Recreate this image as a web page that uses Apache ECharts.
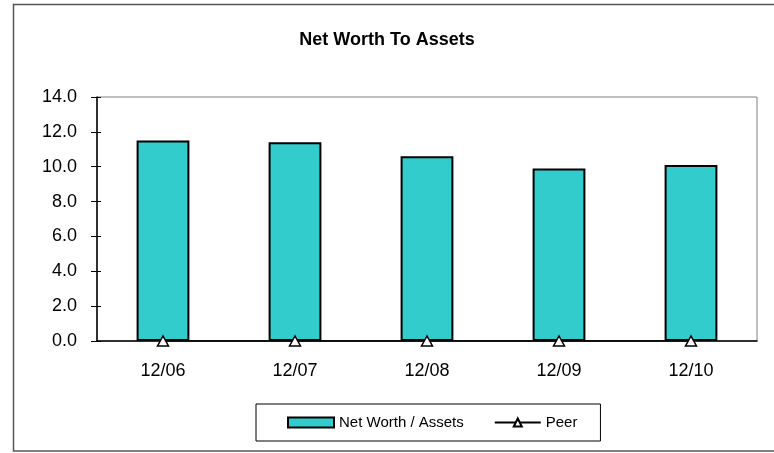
<!DOCTYPE html>
<html>
<head>
<meta charset="utf-8">
<script src="https://cdn.jsdelivr.net/npm/echarts@6/dist/echarts.min.js"></script>
<style>
  html, body { margin: 0; padding: 0; background: #fff; }
  #main { width: 774px; height: 453px; }
</style>
</head>
<body>
<div id="main"></div>
<script>
// data
const categories = ['12/06', '12/07', '12/08', '12/09', '12/10']
const netWorthToAssets = [11.5, 11.4, 10.6, 9.9, 10.1]
const peer = [0, 0, 0, 0, 0]
const yTicks = { min: 0, max: 14, interval: 2 }

const font = 'Liberation Sans, Arial, sans-serif'
const chart = echarts.init(document.getElementById('main'))

chart.setOption({
  animation: false,
  textStyle: { fontFamily: font },
  title: {
    text: 'Net Worth To Assets',
    left: 'center',
    top: 26,
    textStyle: { fontSize: 18, fontWeight: 'bold', color: '#000', fontFamily: font }
  },
  grid: {
    left: 97, right: 17, top: 97, bottom: 112,
    show: true, borderColor: '#808080', borderWidth: 1
  },
  legend: {
    left: 256, top: 404,
    padding: [11, 23, 11, 31],
    borderColor: '#000', borderWidth: 1,
    itemWidth: 46, itemHeight: 10, itemGap: 30,
    textStyle: { fontSize: 15, color: '#000', fontFamily: font },
    data: [
      { name: 'Net Worth / Assets', icon: 'rect' },
      { name: 'Peer' }
    ]
  },
  xAxis: [
    {
      type: 'category',
      data: categories,
      axisLine: { lineStyle: { color: '#000', width: 1.5 } },
      axisTick: { length: 5, lineStyle: { color: '#000' } },
      axisLabel: { fontSize: 18, color: '#000', margin: 21 }
    },
    {
      type: 'category',
      data: categories,
      position: 'bottom',
      axisLine: { show: false },
      axisTick: { inside: true, length: 5, lineStyle: { color: '#000' } },
      axisLabel: { show: false }
    }
  ],
  yAxis: [
    {
      type: 'value',
      min: yTicks.min, max: yTicks.max, interval: yTicks.interval,
      axisLine: { show: true, lineStyle: { color: '#000', width: 1.5 } },
      axisTick: { show: true, length: 6, lineStyle: { color: '#000' } },
      axisLabel: { fontSize: 18, color: '#000', margin: 20, formatter: v => v.toFixed(1) },
      splitLine: { show: false }
    },
    {
      type: 'value',
      position: 'left',
      min: yTicks.min, max: yTicks.max, interval: yTicks.interval,
      axisLine: { show: false },
      axisTick: { show: true, inside: true, length: 4, lineStyle: { color: '#000' } },
      axisLabel: { show: false },
      splitLine: { show: false }
    }
  ],
  series: [
    {
      name: 'Net Worth / Assets',
      type: 'bar',
      data: netWorthToAssets,
      barWidth: '40%',
      itemStyle: { color: '#33CCCC', borderColor: '#000', borderWidth: 2 }
    },
    {
      name: 'Peer',
      type: 'line',
      data: peer,
      symbol: 'triangle',
      symbolSize: [11, 10],
      lineStyle: { color: '#000', width: 1.5 },
      itemStyle: { color: '#fff', borderColor: '#000', borderWidth: 1.5 }
    }
  ],
  graphic: [
    {
      type: 'rect',
      shape: { x: 13.5, y: 4.5, width: 800, height: 446.5 },
      style: { fill: 'none', stroke: '#555', lineWidth: 1.5 },
      silent: true
    }
  ]
})
</script>
</body>
</html>
